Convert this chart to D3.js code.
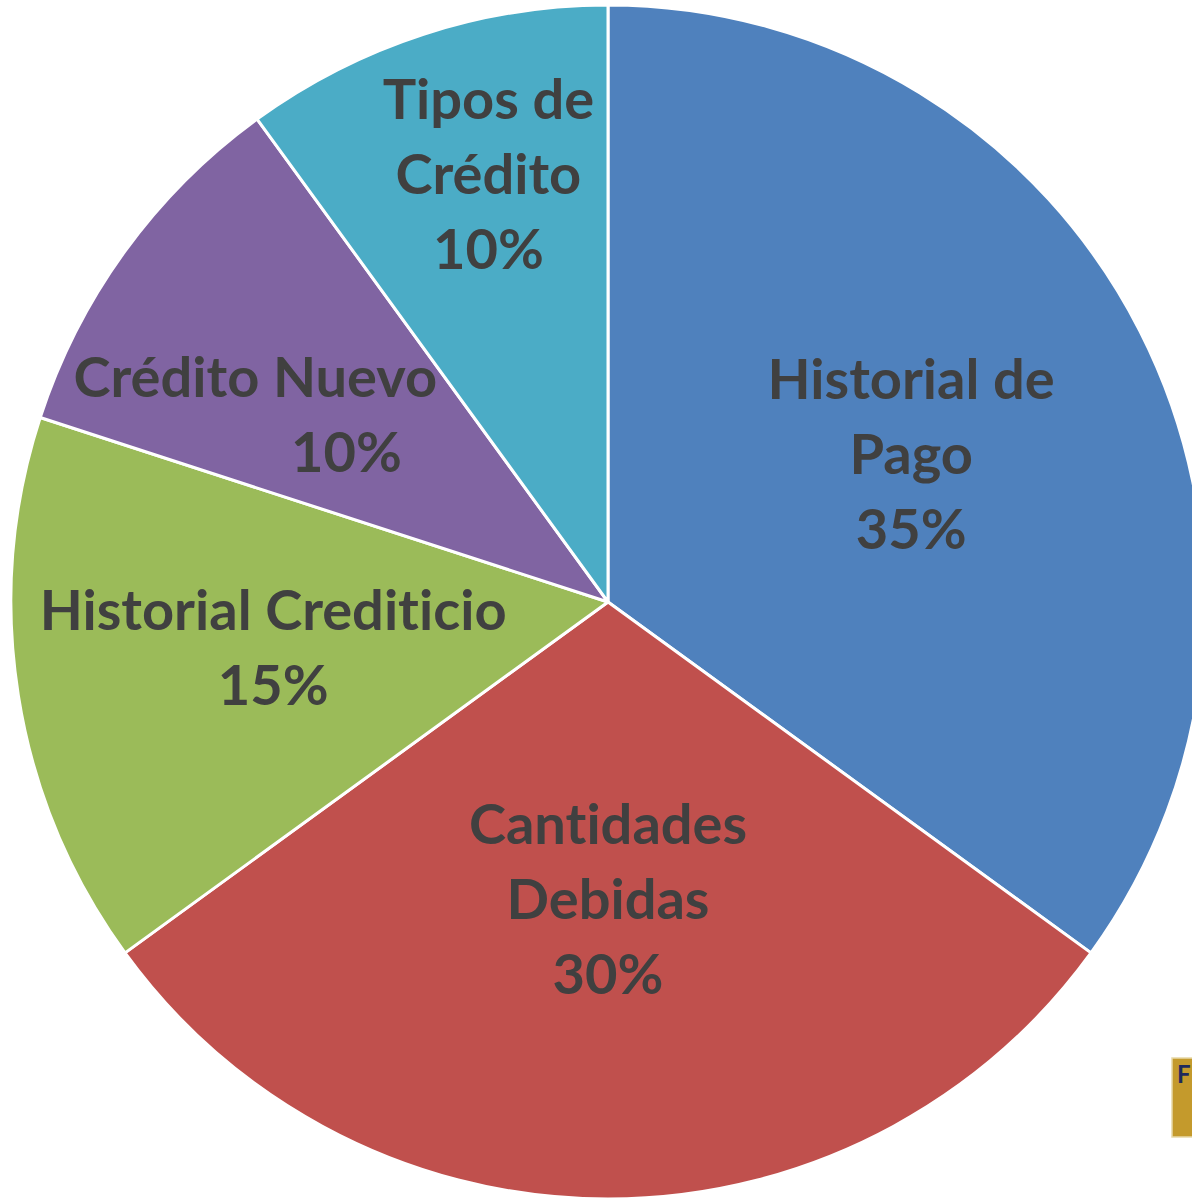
<!DOCTYPE html>
<html>
<head>
<meta charset="utf-8">
<script src="https://cdn.jsdelivr.net/npm/d3@7"></script>
<style>
  html, body { margin: 0; padding: 0; background: #ffffff; overflow: hidden; }
  svg { display: block; }
  text { font-variant-ligatures: none; font-feature-settings: "liga" 0, "clig" 0; }
</style>
</head>
<body>
<div class="pie-container"></div>
<script>
// Datos del gráfico
const categories = ['Historial de Pago', 'Cantidades Debidas', 'Historial Crediticio', 'Crédito Nuevo', 'Tipos de Crédito'];
const values = [35, 30, 15, 10, 10];
// cómo se parte cada etiqueta en líneas
const labelLines = [
    ['Historial de', 'Pago'],
    ['Cantidades', 'Debidas'],
    ['Historial Crediticio'],
    ['Crédito Nuevo'],
    ['Tipos de', 'Crédito']
];

// estilo / posición (fuera de los datos)
const colors = ['#4f81bd', '#c0504d', '#9bbb59', '#8064a2', '#4bacc6'];
const labelPos = [                       // radio relativo, ángulo (grados), desplazamiento x del %
    {r: 0.565, a: 64, pctDx: 0},
    {r: 0.497, a: 180, pctDx: 0},
    {r: 0.566, a: 262.3, pctDx: 0},
    {r: 0.669, a: 298, pctDx: 91},
    {r: 0.745, a: 344.4, pctDx: 0}
];

const width = 1192, height = 1199;
const cx = 608, cy = 602, radius = 597;
const lineH = 75;

const svg = d3.select('.pie-container').append('svg')
    .attr('width', width).attr('height', height);

const g = svg.append('g').attr('transform', `translate(${cx},${cy})`);

const pieData = d3.pie().sort(null).value(d => d.value)(
    categories.map((c, i) => ({name: c, value: values[i], lines: labelLines[i]}))
);

const arc = d3.arc().innerRadius(0).outerRadius(radius);

g.selectAll('path.slice').data(pieData).join('path')
    .attr('class', 'slice')
    .attr('d', arc)
    .attr('fill', (d, i) => colors[i])
    .attr('stroke', '#ffffff')
    .attr('stroke-width', 3)
    .attr('stroke-linejoin', 'round');

// etiquetas
const labels = g.selectAll('text.lbl').data(pieData).join('text')
    .attr('class', 'lbl')
    .attr('transform', (d, i) => {
        const p = labelPos[i];
        const ang = p.a * Math.PI / 180;
        const x = Math.sin(ang) * radius * p.r;
        const y = -Math.cos(ang) * radius * p.r;
        return `translate(${x},${y})`;
    })
    .attr('text-anchor', 'middle')
    .style('font-family', 'Lato, "Open Sans", sans-serif')
    .style('font-weight', 'bold')
    .style('font-size', '56px')
    .style('fill', '#404040');

labels.each(function(d, i) {
    const rows = d.data.lines.concat([Math.round(d.data.value) + '%']);
    const n = rows.length;
    d3.select(this).selectAll('tspan').data(rows).join('tspan')
        .attr('x', (r, k) => k === n - 1 ? labelPos[i].pctDx : 0)
        .attr('y', (r, k) => (k - (n - 1) / 2) * lineH)
        .attr('dy', '0.36em')
        .text(r => r);
});

// recuadro dorado cortado en la esquina inferior derecha
const badge = svg.append('g').attr('transform', 'translate(1172,1058)');
badge.append('rect').attr('width', 40).attr('height', 79)
    .attr('fill', '#c49a2c').attr('stroke', '#e8d9a8').attr('stroke-width', 1.5);
badge.append('text').attr('x', 5).attr('y', 25)
    .style('font-family', 'Lato, sans-serif').style('font-weight', 'bold')
    .style('font-size', '24px').style('fill', '#1f2a5c').text('F');
</script>
</body>
</html>
